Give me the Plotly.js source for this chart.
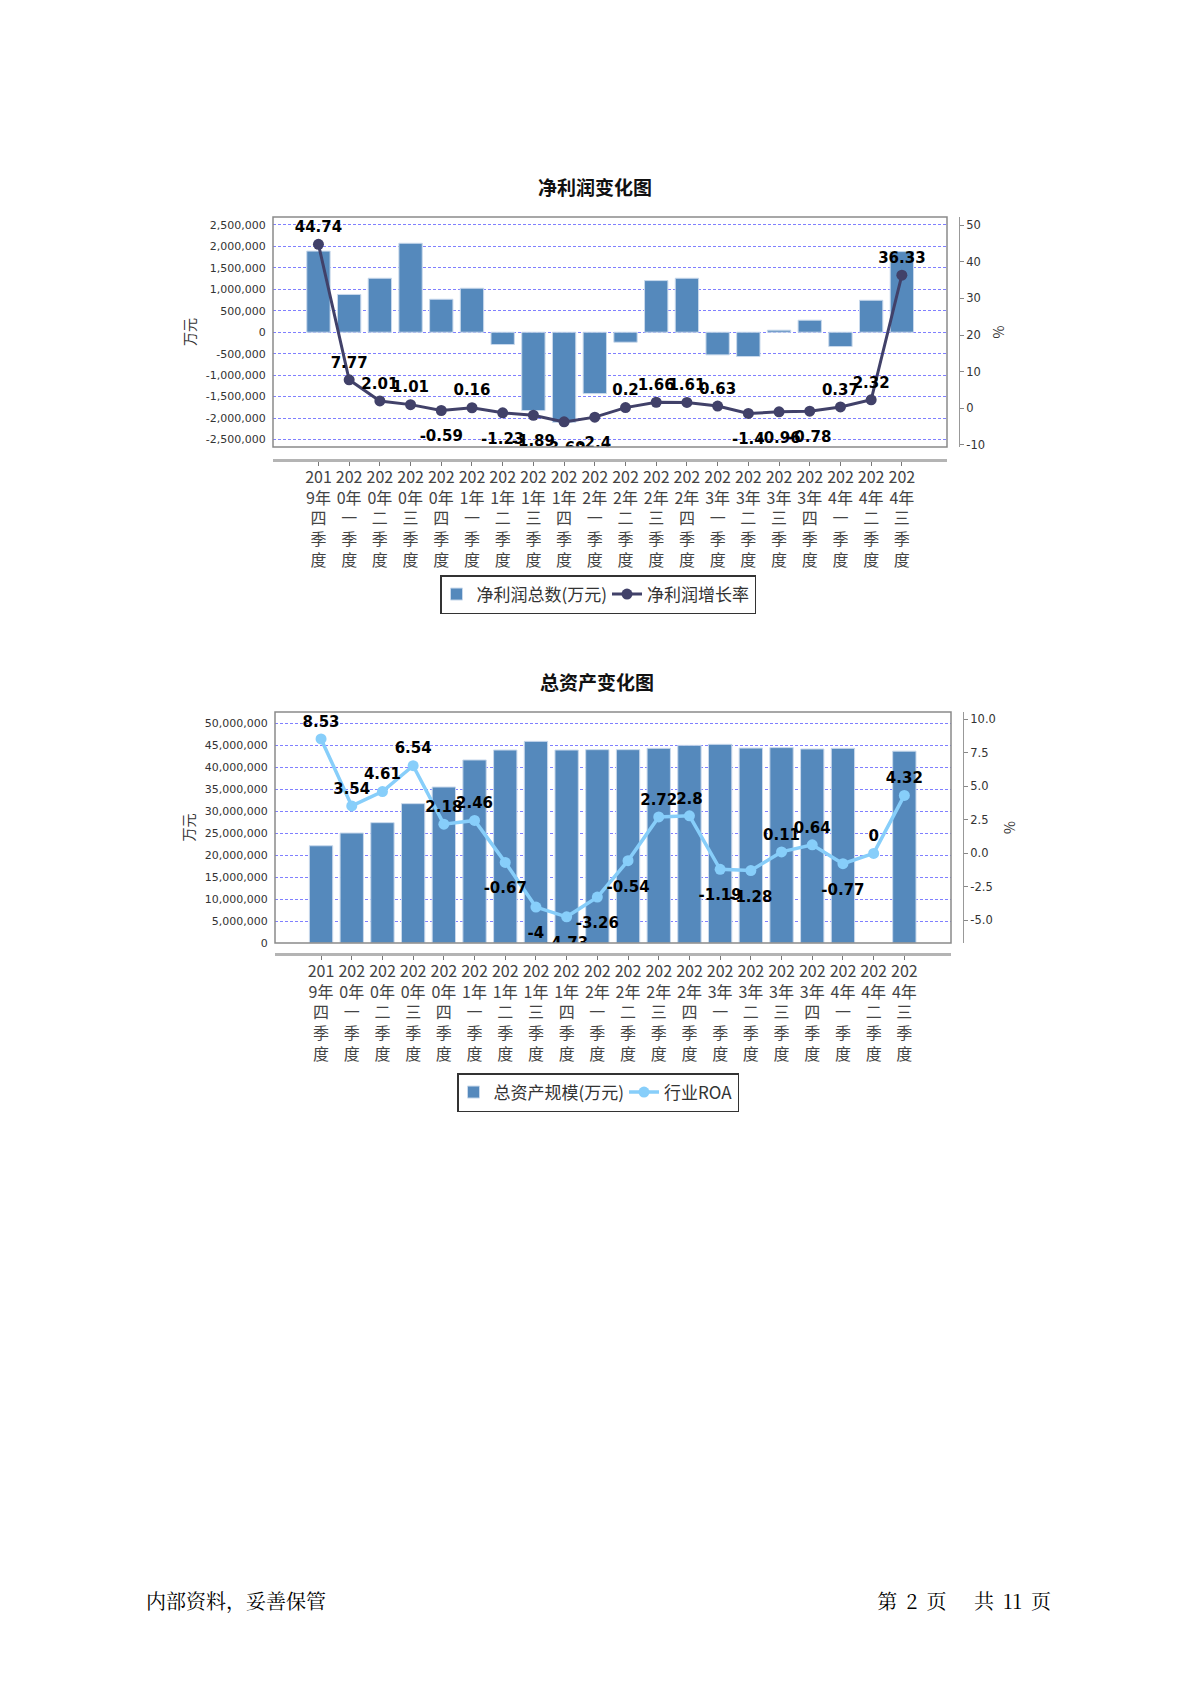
<!DOCTYPE html>
<html><head><meta charset="utf-8">
<script src="https://cdn.plot.ly/plotly-3.0.1.min.js"></script>
<style>
html,body{margin:0;padding:0;background:#fff;width:1191px;height:1684px;overflow:hidden;}
#c1{position:absolute;left:0;top:150px;width:1191px;height:480px;}
#c2{position:absolute;left:0;top:640px;width:1191px;height:500px;}
.foot{position:absolute;top:1587px;font-family:"Noto Serif CJK SC","Noto Sans CJK SC",serif;font-size:20px;color:#000;white-space:pre;line-height:28px;}
</style></head><body>
<div id="c1"></div><div id="c2"></div>
<div class="foot" style="left:146px">内部资料，妥善保管</div>
<div class="foot" style="right:140px;word-spacing:4px;">第 2 页   共 11 页</div>
<script>
// ---------- data ----------
var quarters = ['2019年四季度','2020年一季度','2020年二季度','2020年三季度','2020年四季度',
  '2021年一季度','2021年二季度','2021年三季度','2021年四季度','2022年一季度',
  '2022年二季度','2022年三季度','2022年四季度','2023年一季度','2023年二季度',
  '2023年三季度','2023年四季度','2024年一季度','2024年二季度','2024年三季度'];
var netProfit = [1890000, 880000, 1258000, 2073000, 769000, 1025000, -287000, -1826000, -2100000, -1430000,
  -233000, 1203000, 1258000, -528000, -567000, 47000, 280000, -334000, 745000, 1879000];
var profitGrowth = [44.74, 7.77, 2.01, 1.01, -0.59, 0.16, -1.23, -1.89, -3.69, -2.4,
  0.2, 1.66, 1.61, 0.63, -1.4, -0.96, -0.78, 0.37, 2.32, 36.33];
var totalAssets = [22100000, 25000000, 27350000, 31670000, 35450000, 41600000, 43860000, 45830000, 43860000, 43940000,
  43940000, 44240000, 44920000, 45150000, 44300000, 44400000, 44100000, 44240000, null, 43600000];
var industryROA = [8.53, 3.54, 4.61, 6.54, 2.18, 2.46, -0.67, -4, -4.73, -3.26,
  -0.54, 2.72, 2.8, -1.19, -1.28, 0.11, 0.64, -0.77, 0, 4.32];

var profitTickVals = [2500000, 2000000, 1500000, 1000000, 500000, 0, -500000, -1000000, -1500000, -2000000, -2500000];
var profitTickText = ['2,500,000','2,000,000','1,500,000','1,000,000','500,000','0','-500,000','-1,000,000','-1,500,000','-2,000,000','-2,500,000'];
var growthTickVals = [50, 40, 30, 20, 10, 0, -10];
var growthTickText = ['50','40','30','20','10','0','-10'];
var assetTickVals = [50000000, 45000000, 40000000, 35000000, 30000000, 25000000, 20000000, 15000000, 10000000, 5000000, 0];
var assetTickText = ['50,000,000','45,000,000','40,000,000','35,000,000','30,000,000','25,000,000','20,000,000','15,000,000','10,000,000','5,000,000','0'];
var roaTickVals = [10, 7.5, 5, 2.5, 0, -2.5, -5];
var roaTickText = ['10.0','7.5','5.0','2.5','0.0','-2.5','-5.0'];

// wrapped category tick labels
var quarterTickText = quarters.map(function(s){
  return s.slice(0,3) + '<br>' + s.slice(3,5) + '<br>' + s.charAt(5) + '<br>' + s.charAt(6) + '<br>' + s.charAt(7);
});

// ---------- styles ----------
var BAR = '#5589bc', BAR_LINE = '#c9d9ec', GRID = '#8080ff';
var CJK = '"Noto Sans CJK SC", "DejaVu Sans", sans-serif';
var LAT = '"DejaVu Sans", "Noto Sans CJK SC", sans-serif';

function buildChart(div, opt) {
  var labelSizes = opt.line.map(function(v){ return v >= 0 ? 12 : 30; });
  var labelPos = opt.line.map(function(v){ return v >= 0 ? 'top center' : 'bottom center'; });
  var labelText = opt.line.map(function(v){ return String(v); });
  var traces = [
    {type:'bar', x: quarters, y: opt.bars, name: opt.barName, xaxis:'x', yaxis:'y',
     marker:{color: BAR, line:{color: BAR_LINE, width: 1}}, hoverinfo:'skip'},
    {type:'scatter', mode:'lines+markers', x: quarters, y: opt.line, name: opt.lineName, xaxis:'x', yaxis:'y2',
     line:{color: opt.lineColor, width: opt.lineWidth}, marker:{color: opt.lineColor, size: 11}, hoverinfo:'skip'},
    {type:'scatter', mode:'markers+text', x: quarters, y: opt.line, xaxis:'x', yaxis:'y2', showlegend:false,
     text: labelText, textposition: labelPos, cliponaxis: true,
     textfont:{family: LAT, size: 15, color:'#000', weight:'bold'},
     marker:{size: labelSizes, opacity: 0}, hoverinfo:'skip'}
  ];
  var layout = {
    width: 1191, height: opt.height,
    margin:{l: opt.ml, r: opt.mr, t: opt.mt, b: opt.mb, pad: 0},
    paper_bgcolor:'#fff', plot_bgcolor:'rgba(0,0,0,0)',
    showlegend: true, bargap: 0.24,
    title:{text: opt.title, x: opt.titleX, xref:'paper', xanchor:'center', y: opt.titleY, yref:'container', yanchor:'middle',
      font:{family: CJK, size: 19, color:'#111', weight:'bold'}},
    xaxis:{domain:[0, opt.xEnd], anchor:'free', position: opt.xPos, type:'category',
      range: opt.xRange, autorange: false,
      tickvals: quarters, ticktext: quarterTickText, tickangle: 0,
      showline: true, linecolor:'#b4b4b4', linewidth: 2.5,
      ticks:'outside', ticklen: 4, tickcolor:'#777', tickwidth: 1,
      showgrid: false, zeroline: false, ticklabelstandoff: -2,
      tickfont:{family: CJK, size: 16, color:'#444'}},
    yaxis:{domain:[opt.yStart, 1], range: opt.yRange, tickvals: opt.yTickVals, ticktext: opt.yTickText,
      showgrid: true, gridcolor: GRID, gridwidth: 1, griddash:'3px,2px', zeroline: false, showline: false,
      ticks:'outside', ticklen: 4, tickcolor:'rgba(0,0,0,0)',
      tickfont:{family: LAT, size: 11, color:'#333'},
      title:{text:'万元', standoff: 6, font:{family: CJK, size: 14, color:'#333'}}},
    yaxis2:{overlaying:'y', side:'right', anchor:'free', position: opt.y2Pos, range: opt.y2Range,
      tickvals: opt.y2TickVals, ticktext: opt.y2TickText, showgrid: false, zeroline: false,
      showline: true, linecolor:'#999', linewidth: 1, ticks:'outside', ticklen: 4, tickcolor:'#888',
      tickfont:{family: LAT, size: 11.5, color:'#333'},
      title:{text:'%', standoff: 10, font:{family: CJK, size: 14, color:'#333'}}},
    legend:{orientation:'h', x: opt.legX, xanchor:'center', y: opt.legY, yanchor:'top',
      bordercolor:'#333', borderwidth: 1.5, bgcolor:'#fff', itemwidth: 30, indentation: -5,
      font:{family: CJK, size: 17, color:'#333'}},
    shapes:[{type:'rect', xref:'x domain', yref:'y domain', x0:0, x1:1, y0:0, y1:1,
      line:{color:'#8a8a8a', width:1.5}, layer:'above'}]
  };
  Plotly.newPlot(div, traces, layout, {staticPlot: true, displayModeBar: false});
}

// chart 1: plot area x 273..947, y 217..447 (page), div top 150
buildChart('c1', {
  height: 480, ml: 273, mr: 180, mt: 67, mb: 80,
  xEnd: (947-273)/738, y2Pos: (959-273)/738,
  yStart: (550-447)/333, xPos: (550-460)/333,
  xRange: [-1.48, 20.47],
  legX: (598-273)/738, legY: (550-575)/333,
  titleX: (595-273)/738, titleY: 1-(188-150)/480,
  title: '净利润变化图',
  bars: netProfit, line: profitGrowth, barName: '净利润总数(万元)', lineName: '净利润增长率',
  lineColor: '#414169', lineWidth: 3,
  yRange: [-2675000, 2685000], yTickVals: profitTickVals, yTickText: profitTickText,
  y2Range: [-10.55, 52.2], y2TickVals: growthTickVals, y2TickText: growthTickText
});

// chart 2: plot area x 275..951, y 712..943 (page), div top 640
buildChart('c2', {
  height: 500, ml: 275, mr: 180, mt: 72, mb: 80,
  xEnd: (951-275)/736, y2Pos: (963-275)/736,
  yStart: (1060-943)/348, xPos: (1060-954)/348,
  xRange: [-1.5, 20.52],
  legX: (598-275)/736, legY: (1060-1073)/348,
  titleX: (597-275)/736, titleY: 1-(683-640)/500,
  title: '总资产变化图',
  bars: totalAssets, line: industryROA, barName: '总资产规模(万元)', lineName: '行业ROA',
  lineColor: '#87cefa', lineWidth: 3.5,
  yRange: [0, 52500000], yTickVals: assetTickVals, yTickText: assetTickText,
  y2Range: [-6.68, 10.54], y2TickVals: roaTickVals, y2TickText: roaTickText
});
</script>
</body></html>
